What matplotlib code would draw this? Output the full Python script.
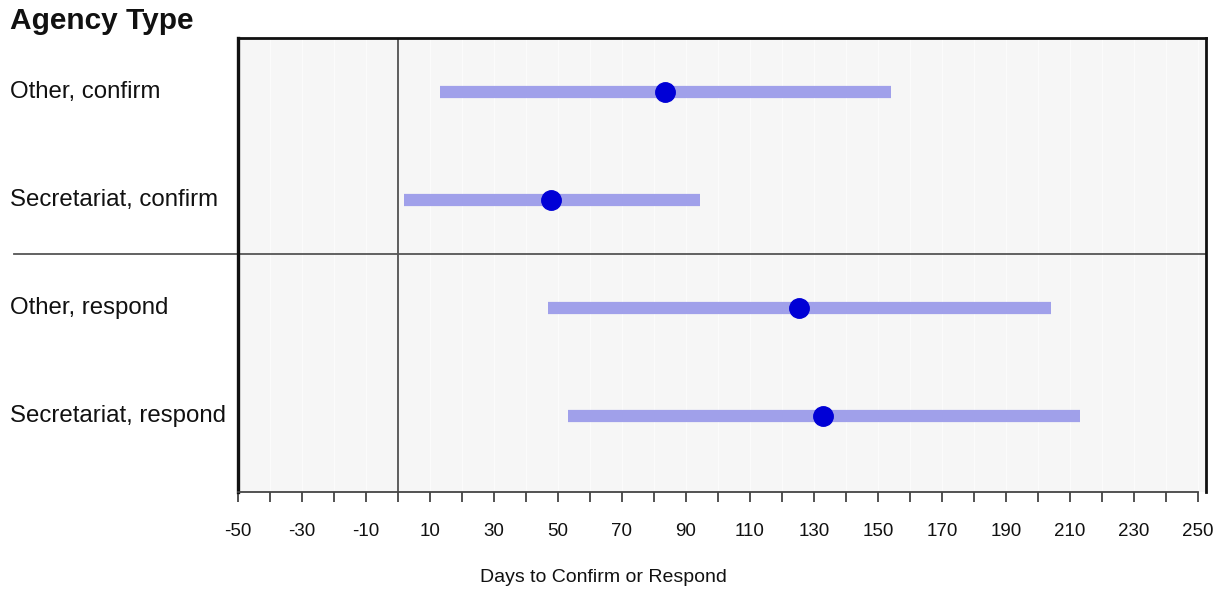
import matplotlib.pyplot as plt
from matplotlib.ticker import FixedLocator

plt.rcParams['font.family'] = ['Liberation Sans', 'DejaVu Sans']

labels = ["Other, confirm", "Secretariat, confirm", "Other, respond", "Secretariat, respond"]
mean_days = [83.4, 47.9, 125.4, 132.9]
low_days = [13.2, 1.9, 46.8, 53.0]
high_days = [154.1, 94.4, 204.2, 213.1]

tick_vals = list(range(-50, 251, 10))
tick_text = [str(v) if (v + 50) % 20 == 0 else "" for v in tick_vals]

fig = plt.figure(figsize=(12.25, 5.93), dpi=100)
ax = fig.add_axes([238 / 1225, 1 - 492 / 593, (1206 - 238) / 1225, (492 - 38) / 593])
ax.set_facecolor('#f6f6f6')

# faint stripes at every 10 days
for v in tick_vals:
    ax.axvline(v, color='#fbfbfb', lw=1, zorder=0)

ax.axvline(0, color='#333333', lw=1.1, zorder=1)

rows = list(range(len(labels)))
ax.hlines(rows, low_days, high_days, color='#a0a0ea', lw=8.8, capstyle='butt', zorder=2)
ax.plot(mean_days, rows, 'o', color='#0000d6', ms=14, mec='#0000d6', zorder=3)

# divider between confirm and respond groups, reaching into the label area
ax.plot([-0.231, 1], [1.5, 1.5], color='#555555', lw=1.3,
        transform=ax.get_yaxis_transform(), clip_on=False, zorder=1)

for r, lab in zip(rows, labels):
    ax.text(-0.2355, r, lab, transform=ax.get_yaxis_transform(),
            ha='left', va='center', fontsize=17.3, color='#111111')

ax.set_xlim(-50, 252.5)
ax.set_ylim(3.7, -0.5)
ax.set_yticks([])

ax.xaxis.set_major_locator(FixedLocator(tick_vals))
ax.set_xticklabels(tick_text, fontsize=13.5, color='#111111')
ax.tick_params(axis='x', length=7, width=1.3, color='#444444', pad=15)

for side in ['top', 'left', 'right']:
    ax.spines[side].set_linewidth(2)
    ax.spines[side].set_color('#111111')
ax.spines['left'].set_linewidth(2.4)
ax.spines['bottom'].set_bounds(-50, 250)
ax.spines['bottom'].set_color('#444444')
ax.spines['bottom'].set_linewidth(1.3)

fig.text(10 / 1225, 1 - 21 / 593, "Agency Type", fontsize=21.5, fontweight='bold',
         ha='left', va='center', color='#111111')
fig.text(603 / 1225, 1 - 577 / 593, "Days to Confirm or Respond", fontsize=14,
         ha='center', va='center', color='#111111')

fig.savefig('out.png', dpi=100)
